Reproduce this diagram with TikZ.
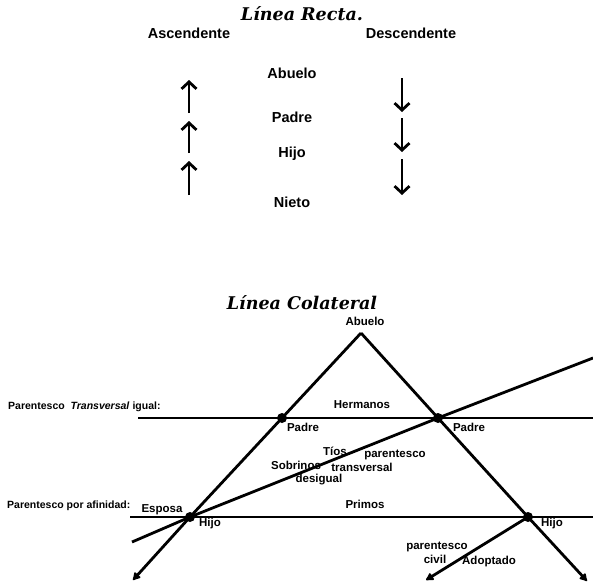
\documentclass[tikz,border=0pt]{standalone}
\usepackage{fontspec}
\setmainfont{Liberation Sans}
\newfontfamily\titlefont{DejaVu Serif}
\usetikzlibrary{arrows.meta}
\tikzset{
	ttl/.style={font=\titlefont\fontsize{17.5}{19}\selectfont\bfseries\itshape, inner sep=0pt},
	lbl/.style={font=\fontsize{14.5}{16}\selectfont\bfseries, inner sep=0pt},
	sml/.style={font=\fontsize{11.5}{13}\selectfont\bfseries, inner sep=0pt},
	side/.style={font=\fontsize{10.5}{12}\selectfont\bfseries, inner sep=0pt, anchor=west},
	uparr/.style={line width=2.8pt, -{Straight Barb[length=7pt,width=15pt]}},
	leg/.style={line width=2.8pt},
	levelline/.style={line width=2pt},
	tipend/.style={-{Latex[length=9pt,width=10pt,round]}},
	dot/.style={circle, fill=black, inner sep=0pt, minimum size=10pt}
}

\begin{document}
\begin{tikzpicture}[x=1pt, y=-1pt]
		%%%%% START %%%%%
		\useasboundingbox (0, 0) rectangle (593, 584);
		
		% linea recta
		\node[ttl] (titRecta) at (302, 14) {Línea Recta.};
		\node[lbl] (asc) at (189, 33) {Ascendente};
		\node[lbl] (desc) at (411, 33) {Descendente};
		
		\node[lbl] (abuelo) at (292, 73) {Abuelo};
		\node[lbl] (padre) at (292, 117) {Padre};
		\node[lbl] (hijo) at (292, 154) {Hijo};
		\node[lbl] (nieto) at (292, 202) {Nieto};
		
		\coordinate (up1a) at (189, 113); \coordinate (up1b) at (189, 80);
		\coordinate (up2a) at (189, 153); \coordinate (up2b) at (189, 121);
		\coordinate (up3a) at (189, 195); \coordinate (up3b) at (189, 161);
		\draw[uparr] (up1a) -- (up1b);
		\draw[uparr] (up2a) -- (up2b);
		\draw[uparr] (up3a) -- (up3b);
		
		\coordinate (dn1a) at (402, 78);  \coordinate (dn1b) at (402, 112);
		\coordinate (dn2a) at (402, 118); \coordinate (dn2b) at (402, 152);
		\coordinate (dn3a) at (402, 159); \coordinate (dn3b) at (402, 195);
		\draw[uparr] (dn1a) -- (dn1b);
		\draw[uparr] (dn2a) -- (dn2b);
		\draw[uparr] (dn3a) -- (dn3b);
		
		% linea colateral
		\node[ttl] (titCol) at (302, 303) {Línea Colateral};
		\node[sml] (abueloC) at (365, 321) {Abuelo};
		\coordinate (top) at (361, 333);
		
		\coordinate (trIzq) at (138, 418); \coordinate (trDer) at (593, 418);
		\coordinate (afIzq) at (130, 517); \coordinate (afDer) at (593, 517);
		\draw[levelline] (trIzq) -- (trDer);
		\draw[levelline] (afIzq) -- (afDer);
		
		\node[dot] (padreIzq) at (282, 418) {};
		\node[dot] (padreDer) at (438, 418) {};
		\node[dot] (hijoIzq) at (190, 517) {};
		\node[dot] (hijoDer) at (528, 517) {};
		
		\coordinate (finIzq) at (133, 580);
		\coordinate (finDer) at (587, 581);
		\coordinate (finAdop) at (426, 580);
		\coordinate (esposaIzq) at (132, 542);
		\coordinate (diagFin) at (593, 358);
		
		\draw[leg, tipend] (top) -- (padreIzq.center) -- (hijoIzq.center) -- (finIzq);
		\draw[leg, tipend] (top) -- (padreDer.center) -- (hijoDer.center) -- (finDer);
		\draw[leg, tipend] (hijoDer.center) -- (finAdop);
		\draw[leg] (esposaIzq) -- (hijoIzq.center) -- (padreDer.center) -- (diagFin);
		
		\node[side] (ptIgual) at (8, 407) {Parentesco\ \ \textit{Transversal} igual:};
		\node[sml] (hermanos) at (362, 405) {Hermanos};
		\node[sml] (lblPadreIzq) at (303, 427) {Padre};
		\node[sml] (lblPadreDer) at (469, 427) {Padre};
		
		\node[sml] (tios) at (335, 451) {Tíos};
		\node[sml] (pt1) at (395, 455) {parentesco};
		\node[sml] (sobrinos) at (296, 465) {Sobrinos};
		\node[sml] (pt2) at (362, 467) {transversal};
		\node[sml] (pt3) at (319, 480) {desigual};
		
		\node[side] (ptAfin) at (7, 506) {Parentesco por afinidad:};
		\node[sml] (esposa) at (162, 510) {Esposa};
		\node[sml] (primos) at (365, 504) {Primos};
		\node[sml] (lblHijoIzq) at (210, 524) {Hijo};
		\node[sml] (lblHijoDer) at (552, 524) {Hijo};
		
		\node[sml] (civil1) at (437, 547) {parentesco};
		\node[sml] (civil2) at (435, 559) {civil};
		\node[sml] (adoptado) at (489, 562) {Adoptado};
		%%%%% END %%%%%
	\end{tikzpicture}
\end{document}
